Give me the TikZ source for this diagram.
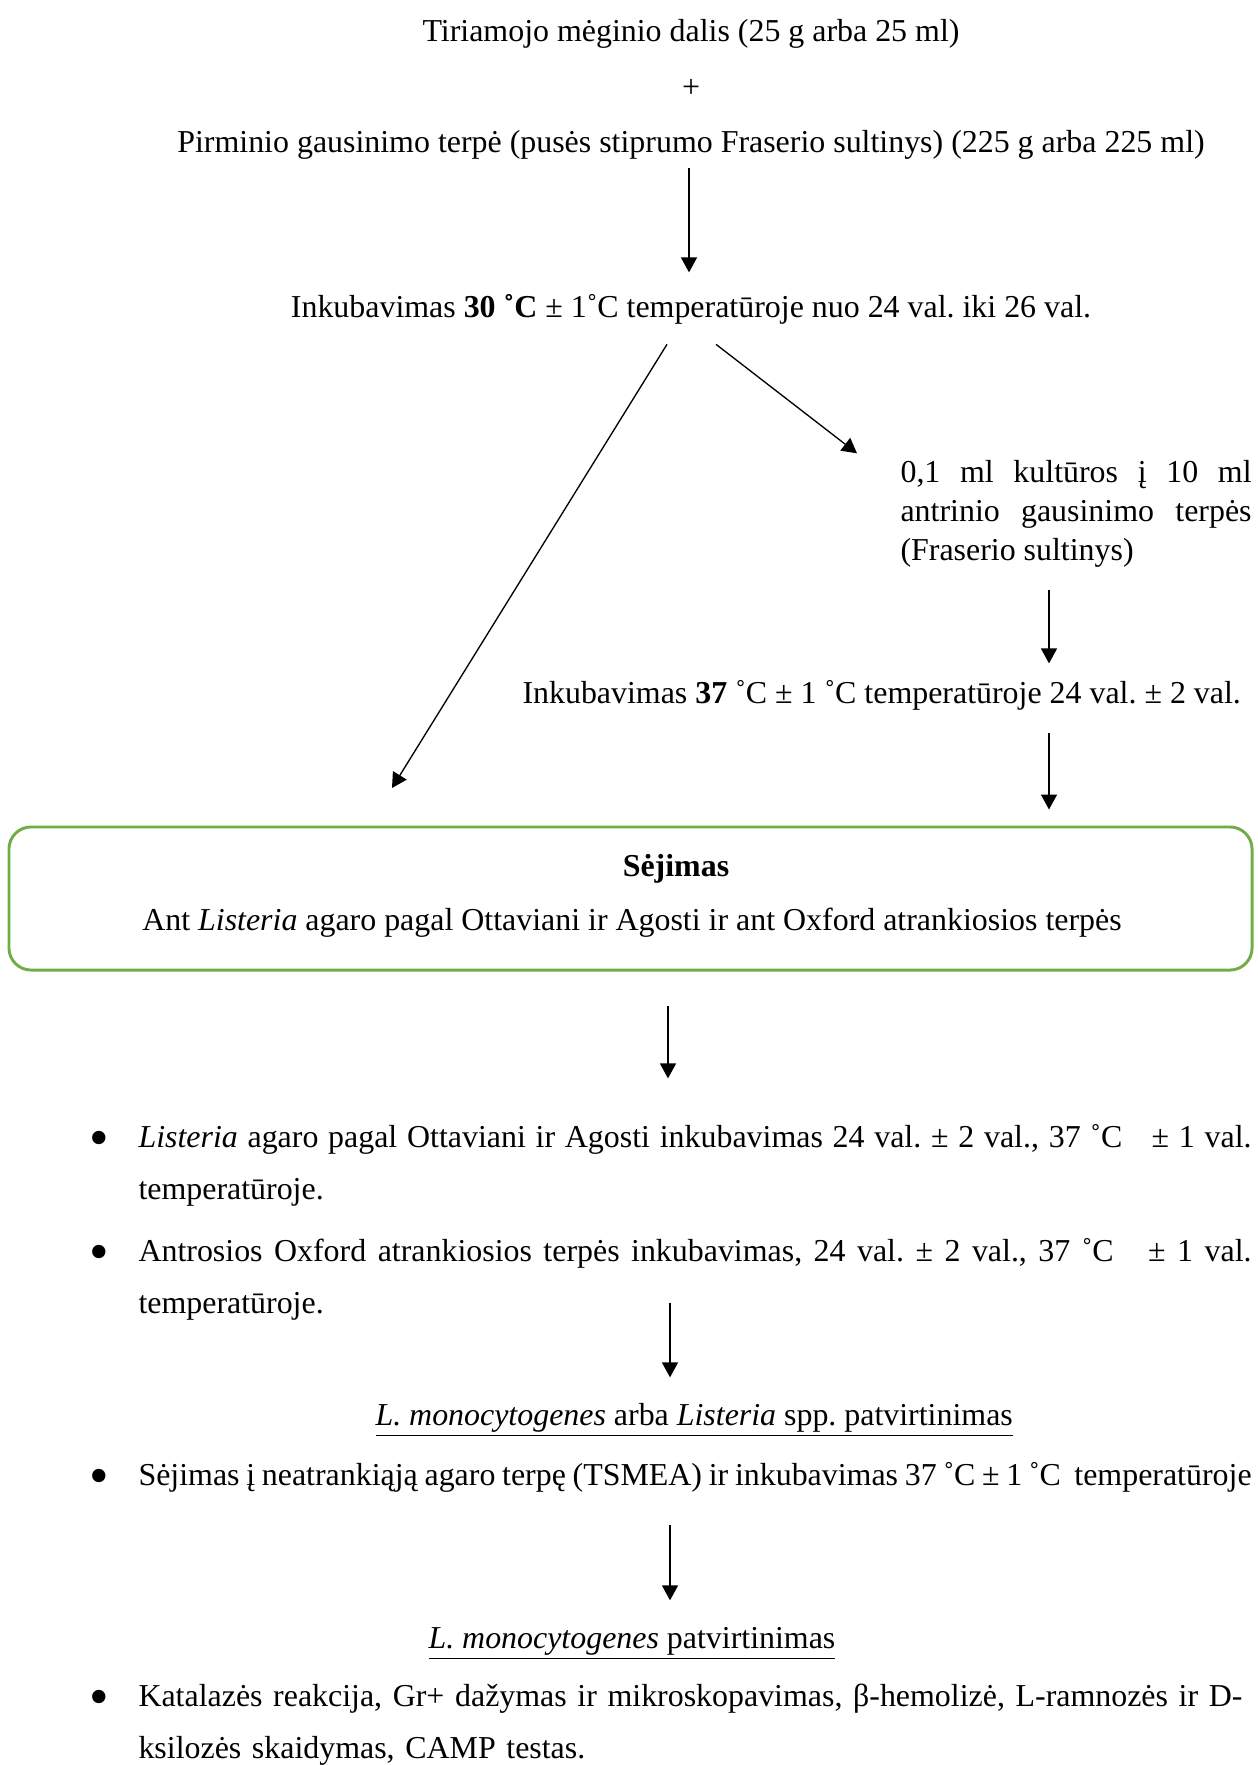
\documentclass[tikz,border=0pt]{standalone}
\usepackage{fontspec}
\setmainfont{Liberation Serif}
\usetikzlibrary{calc,arrows.meta}
\definecolor{boxgreen}{RGB}{112,173,71}
\frenchspacing

\begin{document}
\begin{tikzpicture}[x=0.376pt,y=-0.376pt,
    txt/.style={inner sep=0pt,font=\fontsize{12}{19.9}\selectfont},
    item/.style={txt,anchor=base west,text width=418.5pt,align=justify},
    dot/.style={inner sep=0pt,anchor=center,font=\fontsize{21}{21}\selectfont},
    box/.style={draw=boxgreen,line width=1.1pt,rounded corners=8.3pt,minimum width=467.4pt,minimum height=53.8pt,inner sep=0pt},
    arr/.style={line width=0.5pt,-{Triangle[length=5.6pt,width=6pt]}}]
    \useasboundingbox (0,0) rectangle (1257,1765);
    \node[txt,anchor=base] (sample) at (691,42) {Tiriamojo mėginio dalis (25 g arba 25 ml)};
    \node[txt,anchor=base] (plus) at (691,98) {+};
    \node[txt,anchor=base] (broth) at (691,153) {Pirminio gausinimo terpė (pusės stiprumo Fraserio sultinys) (225 g arba 225 ml)};
    \node[txt,anchor=base] (inc30) at (691,318) {Inkubavimas \textbf{30 ˚C} ± 1˚C temperatūroje nuo 24 val. iki 26 val.};
    \node[txt,anchor=base west,text width=132pt,align=justify,font=\fontsize{12}{14.7}\selectfont] (sub) at (900,482) {0,1 ml kultūros į 10 ml\linebreak antrinio gausinimo terpės\linebreak (Fraserio sultinys)};
    \node[txt,anchor=base west] (inc37) at (522,703) {Inkubavimas \textbf{37} ˚C ± 1 ˚C temperatūroje 24 val. ± 2 val.};
    \node[box] (plate) at (630.5,898.5) {};
    \node[txt,anchor=base,font=\fontsize{12}{14}\selectfont\bfseries] (platehead) at (676,876) {Sėjimas};
    \node[txt,anchor=base] (platetxt) at (632,930) {Ant \textit{Listeria} agaro pagal Ottaviani ir Agosti ir ant Oxford atrankiosios terpės};
    \node[dot] (d1) at (99,1144) {•};
    \node[item] (i1) at (138,1147) {\textit{Listeria} agaro pagal Ottaviani ir Agosti inkubavimas 24 val. ± 2 val., 37 ˚C\ \ \ ± 1 val.\linebreak temperatūroje.};
    \node[dot] (d2) at (99,1258) {•};
    \node[item] (i2) at (138,1261) {Antrosios Oxford atrankiosios terpės inkubavimas, 24 val. ± 2 val., 37 ˚C\ \ \ ± 1 val.\linebreak temperatūroje.};
    \node[txt,anchor=base west] (conf1) at (375,1425) {\underline{\textit{L. monocytogenes} arba \textit{Listeria} spp. patvirtinimas}};
    \node[dot] (d3) at (99,1482) {•};
    \node[txt,anchor=base west] (i3) at (138,1485) {\makebox[418.5pt][s]{Sėjimas į neatrankiąją agaro terpę (TSMEA) ir inkubavimas 37 ˚C ± 1 ˚C\ \ temperatūroje}};
    \node[txt,anchor=base west] (conf2) at (428,1648) {\underline{\textit{L. monocytogenes} patvirtinimas}};
    \node[dot] (d4) at (99,1703) {•};
    \node[txt,anchor=base west,text width=418.5pt,align=left] (i4) at (138,1706) {Katalazės reakcija, Gr+ dažymas ir mikroskopavimas, β-hemolizė, L-ramnozės ir D-\\ksilozės skaidymas, CAMP testas.};
    \coordinate (midcol) at (689,0);
    \coordinate (rightcol) at (1049,0);
    \coordinate (lowcol) at (670,0);
    \coordinate (leftend) at (392,788);
    \draw[arr] ($(midcol |- broth.south)+(0,8)$) -- ($(midcol |- inc30.north)+(0,-22)$);
    \draw[arr] ($(inc30.south)+(-24,19)$) -- (leftend);
    \draw[arr] ($(inc30.south)+(25,19)$) -- ($(sub.north west)+(-43,-6)$);
    \draw[arr] ($(rightcol |- sub.south)+(0,22)$) -- ($(rightcol |- inc37.north)+(0,-16)$);
    \draw[arr] ($(rightcol |- inc37.south)+(0,23)$) -- ($(rightcol |- plate.north)+(0,-16)$);
    \draw[arr] ($(lowcol |- plate.south)+(-2,34)$) -- ($(lowcol |- i1.north)+(-2,-45)$);
    \draw[arr] ($(lowcol |- i2.south)+(0,-18)$) -- ($(lowcol |- conf1.north)+(0,-25)$);
    \draw[arr] ($(lowcol |- i3.south)+(0,33)$) -- ($(lowcol |- conf2.north)+(0,-26)$);
\end{tikzpicture}
\end{document}
